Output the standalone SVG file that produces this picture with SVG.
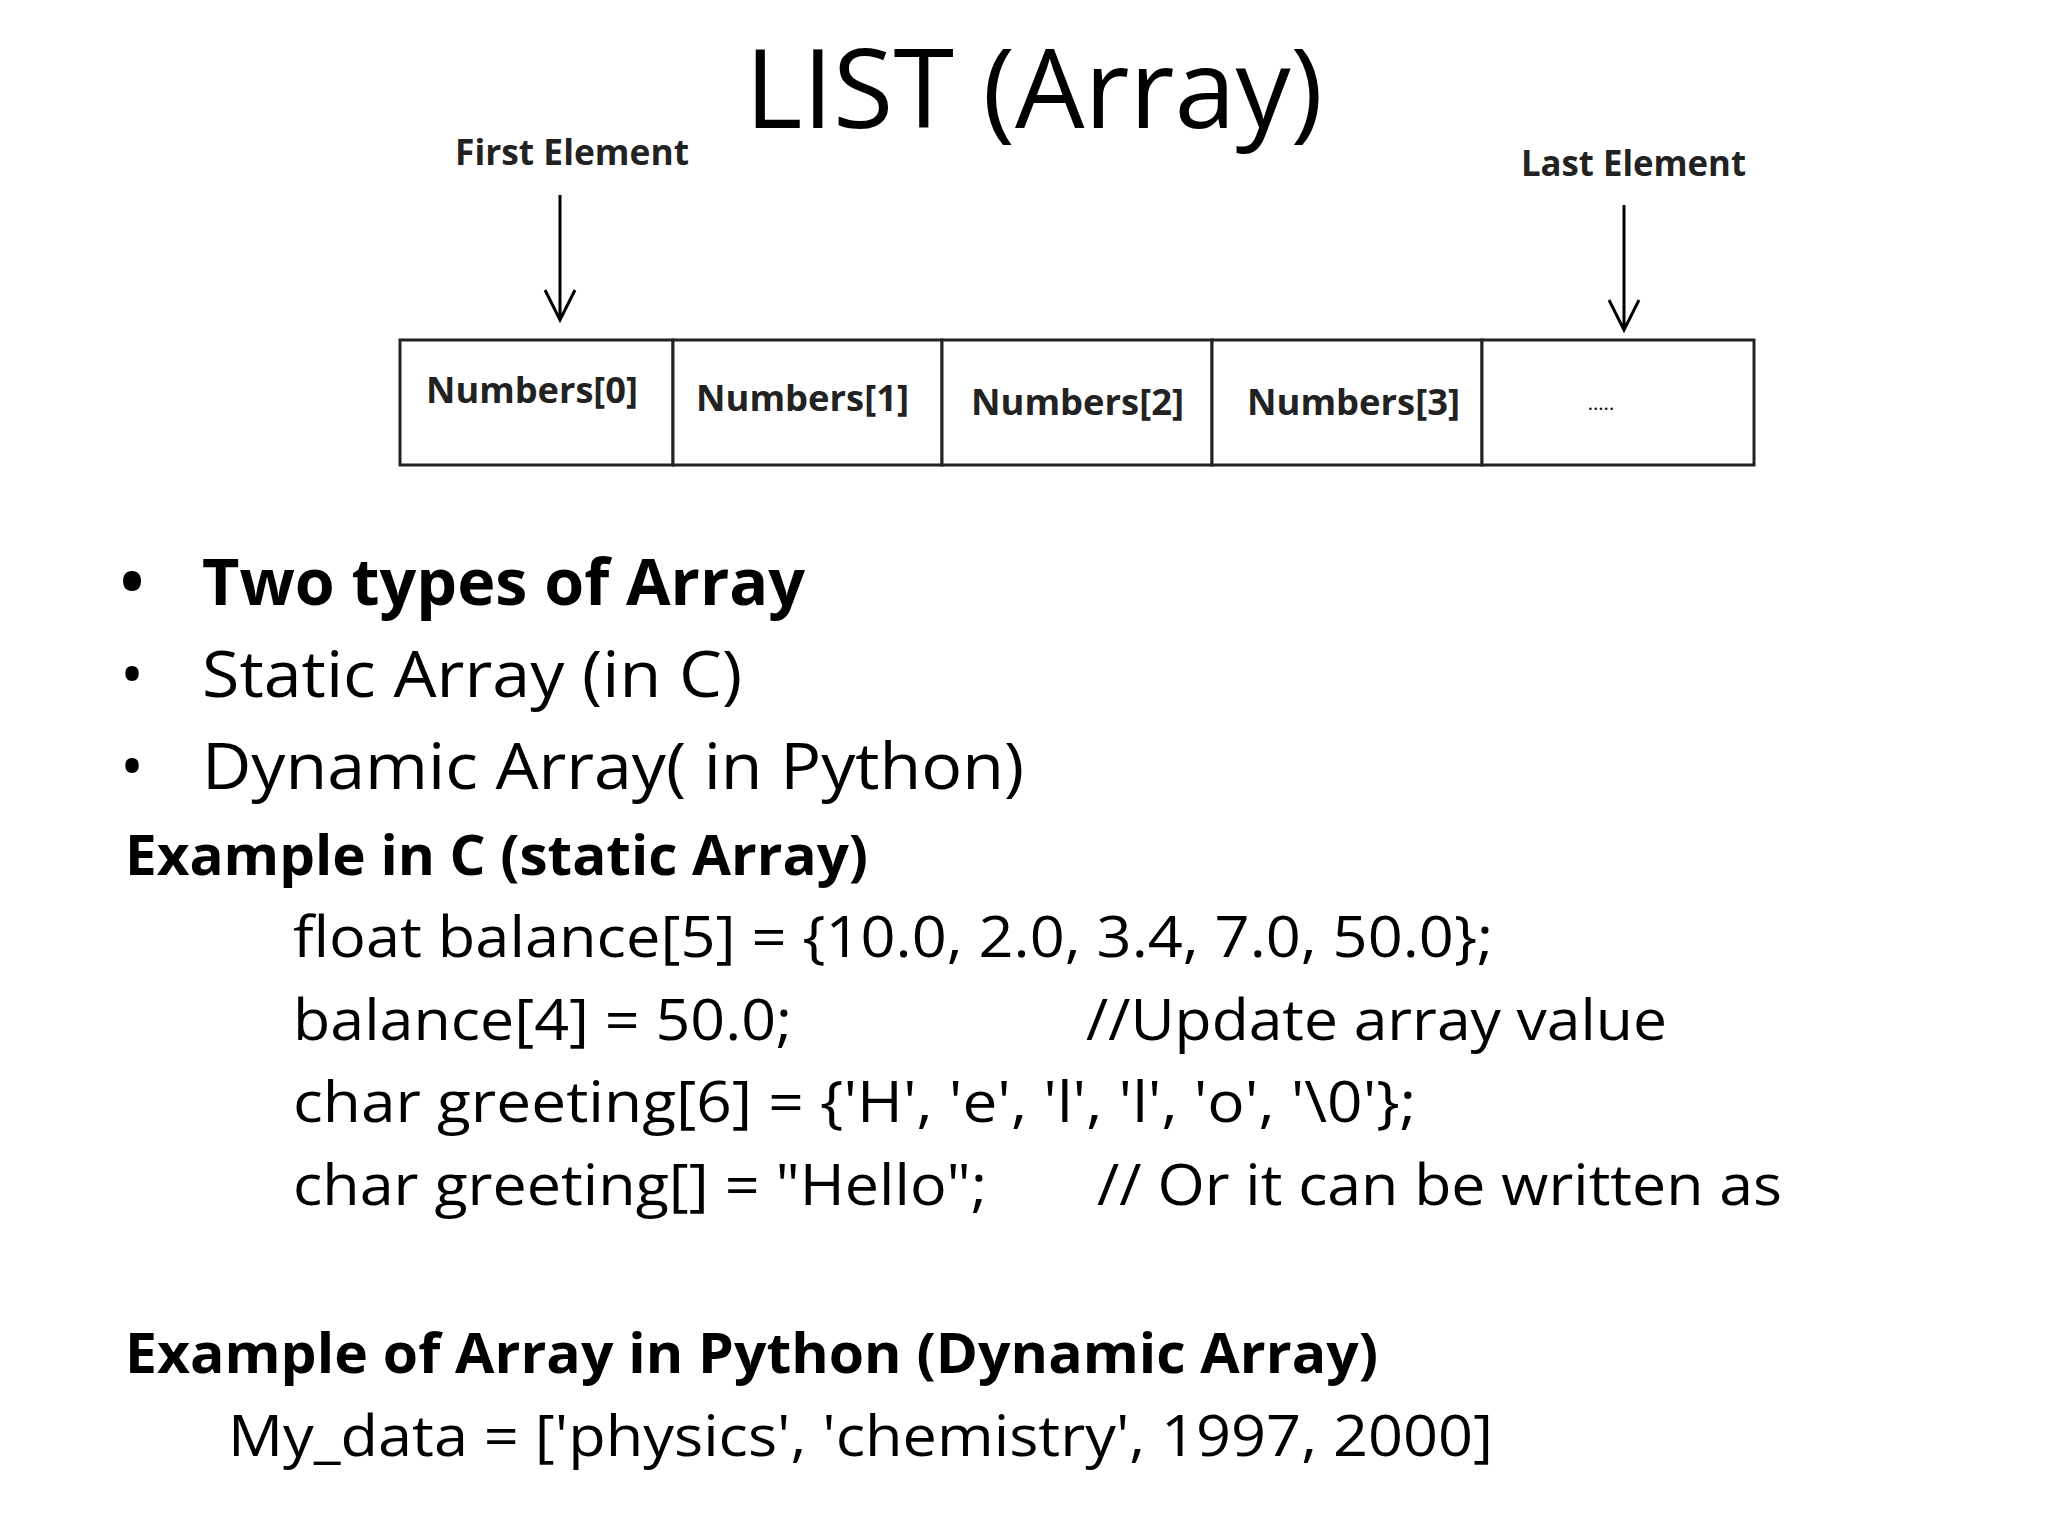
<svg xmlns="http://www.w3.org/2000/svg" width="2048" height="1536" viewBox="0 0 2048 1536">
<style>
text{font-family:"Open Sans","Liberation Sans",sans-serif;fill:#000}
.lbl{font-size:36px;font-weight:bold;fill:#222}
.b{font-size:64px}
.bb{font-size:64px;font-weight:bold}
.h{font-size:56px;font-weight:bold}
.c{font-size:56px}
.cell{fill:#fff;stroke:#222;stroke-width:3}
.arr{stroke:#000;stroke-width:3;fill:none}
</style>
<rect width="2048" height="1536" fill="#fff"/>
<text x="1034" y="128" font-size="110" text-anchor="middle" textLength="578" lengthAdjust="spacingAndGlyphs">LIST (Array)</text>
<g id="first-label"><text class="lbl" x="455" y="165" textLength="234" lengthAdjust="spacingAndGlyphs">First Element</text></g>
<g id="last-label"><text class="lbl" x="1521" y="176" textLength="225" lengthAdjust="spacingAndGlyphs">Last Element</text></g>
<g id="connectors">
<path class="arr" d="M560 195V318M545 290L560 320L575 290"/>
<path class="arr" d="M1624 205V328M1609 300L1624 330L1639 300"/>
</g>
<g id="cell0"><rect class="cell" x="400" y="340" width="273" height="125"/><text class="lbl" x="426" y="403" textLength="212" lengthAdjust="spacingAndGlyphs">Numbers[0]</text></g>
<g id="cell1"><rect class="cell" x="673" y="340" width="269" height="125"/><text class="lbl" x="696" y="411" textLength="213" lengthAdjust="spacingAndGlyphs">Numbers[1]</text></g>
<g id="cell2"><rect class="cell" x="942" y="340" width="270" height="125"/><text class="lbl" x="971" y="415" textLength="213" lengthAdjust="spacingAndGlyphs">Numbers[2]</text></g>
<g id="cell3"><rect class="cell" x="1212" y="340" width="270" height="125"/><text class="lbl" x="1247" y="415" textLength="213" lengthAdjust="spacingAndGlyphs">Numbers[3]</text></g>
<g id="cell4"><rect class="cell" x="1482" y="340" width="272" height="125"/><text x="1601" y="410" font-size="20" fill="#555" text-anchor="middle">.....</text></g>
<text class="bb" x="120" y="605">•</text><text class="bb" x="202" y="605" textLength="603" lengthAdjust="spacingAndGlyphs">Two types of Array</text>
<text class="b" x="120" y="697">•</text><text class="b" x="202" y="697" textLength="540" lengthAdjust="spacingAndGlyphs">Static Array (in C)</text>
<text class="b" x="120" y="789">•</text><text class="b" x="202" y="789" textLength="822" lengthAdjust="spacingAndGlyphs">Dynamic Array( in Python)</text>
<text class="h" x="125" y="875" textLength="743" lengthAdjust="spacingAndGlyphs">Example in C (static Array)</text>
<text class="c" x="293" y="957" textLength="1200" lengthAdjust="spacingAndGlyphs">float balance[5] = {10.0, 2.0, 3.4, 7.0, 50.0};</text>
<text class="c" x="293" y="1040" textLength="499" lengthAdjust="spacingAndGlyphs">balance[4] = 50.0;</text>
<text class="c" x="1086" y="1040" textLength="581" lengthAdjust="spacingAndGlyphs">//Update array value</text>
<text class="c" x="293" y="1122" textLength="1123" lengthAdjust="spacingAndGlyphs">char greeting[6] = {'H', 'e', 'l', 'l', 'o', '\0'};</text>
<text class="c" x="293" y="1205" textLength="694" lengthAdjust="spacingAndGlyphs">char greeting[] = "Hello";</text>
<text class="c" x="1097" y="1205" textLength="685" lengthAdjust="spacingAndGlyphs">// Or it can be written as</text>
<text class="h" x="125" y="1373" textLength="1253" lengthAdjust="spacingAndGlyphs">Example of Array in Python (Dynamic Array)</text>
<text class="c" x="228" y="1456" textLength="1265" lengthAdjust="spacingAndGlyphs">My_data = ['physics', 'chemistry', 1997, 2000]</text>
</svg>
